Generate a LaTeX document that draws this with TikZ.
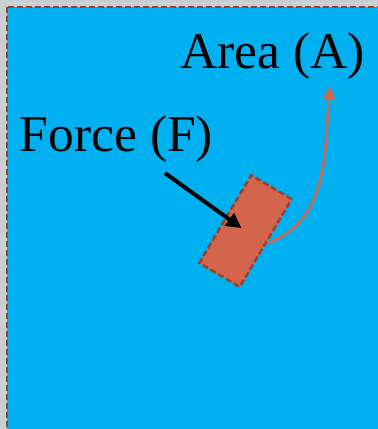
\documentclass[tikz,border=0pt]{standalone}
\usepackage{fontspec}
\setmainfont{Liberation Serif}
\usetikzlibrary{arrows.meta}
\definecolor{skyblue}{HTML}{00B0F0}
\definecolor{bggray}{HTML}{C9CFD3}
\definecolor{patch}{HTML}{D2654B}
\definecolor{patchedge}{HTML}{9B3F2A}
\begin{document}
\begin{tikzpicture}[x=1pt, y=-1pt,
		label/.style={font=\fontsize{51.5}{60}\selectfont, inner sep=0pt, anchor=base},
		patchbox/.style={draw=patchedge, fill=patch, line width=2.5pt, dash pattern=on 6pt off 3pt,
			minimum width=47pt, minimum height=102pt, inner sep=0pt, rotate=-30.6}]
			\useasboundingbox (0, 0) rectangle (378, 429);
			\clip (0, 0) rectangle (378, 429);
			\fill[bggray] (0, 0) rectangle (378, 429);

			% fluid region
			\draw[fill=skyblue, draw=patchedge, line width=2.5pt, dash pattern=on 6pt off 3pt]
				(7, 7) rectangle (400, 450);

			% labels
			\node[label] (alabel) at (272.5, 68) {Area (A)};
			\node[label] (flabel) at (116.5, 151) {Force (F)};

			% surface patch
			\node[patchbox] (area) at (245.5, 231) {};

			% force arrow
			\coordinate (fstart) at (165, 173);
			\draw[-{Triangle[length=15pt, width=15pt]}, line width=4pt, shorten >=5pt]
				(fstart) -- (area.center);

			% area arrow
			\coordinate (atip) at (330, 86);
			\draw[-{Triangle[length=13pt, width=12pt]}, draw=patch, line width=2.5pt]
				(area.east) to[out=20, in=-95] (atip);
		\end{tikzpicture}
\end{document}
